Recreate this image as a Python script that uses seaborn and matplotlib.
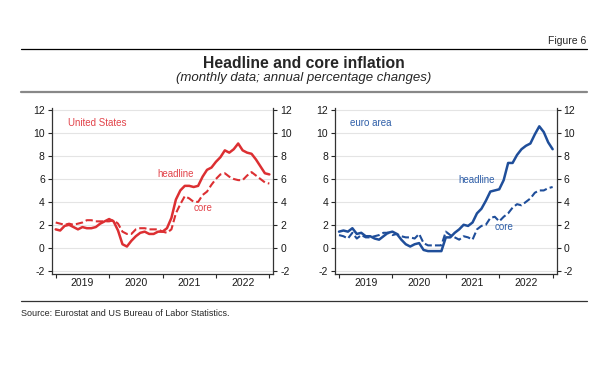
import numpy as np
import pandas as pd
import matplotlib
matplotlib.use("Agg")
import matplotlib.pyplot as plt
from matplotlib.lines import Line2D
import seaborn as sns

# monthly data Jan 2019 - Jan 2023, annual % changes
us_headline = [1.6, 1.5, 1.9, 2.0, 1.8, 1.6, 1.8, 1.7, 1.7, 1.8, 2.1, 2.3,
               2.5, 2.3, 1.5, 0.3, 0.1, 0.6, 1.0, 1.3, 1.4, 1.2, 1.2, 1.4,
               1.4, 1.7, 2.6, 4.2, 5.0, 5.4, 5.4, 5.3, 5.4, 6.2, 6.8, 7.0,
               7.5, 7.9, 8.5, 8.3, 8.6, 9.1, 8.5, 8.3, 8.2, 7.7, 7.1, 6.5,
               6.4]
us_core = [2.2, 2.1, 2.0, 2.1, 2.0, 2.1, 2.2, 2.4, 2.4, 2.3, 2.3, 2.3,
           2.3, 2.4, 2.1, 1.4, 1.2, 1.2, 1.6, 1.7, 1.7, 1.6, 1.6, 1.6,
           1.4, 1.3, 1.6, 3.0, 3.8, 4.5, 4.3, 4.0, 4.0, 4.6, 4.9, 5.5,
           6.0, 6.4, 6.5, 6.2, 6.0, 5.9, 5.9, 6.3, 6.6, 6.3, 6.0, 5.7,
           5.6]
ea_headline = [1.4, 1.5, 1.4, 1.7, 1.2, 1.3, 1.0, 1.0, 0.8, 0.7, 1.0, 1.3,
               1.4, 1.2, 0.7, 0.3, 0.1, 0.3, 0.4, -0.2, -0.3, -0.3, -0.3, -0.3,
               0.9, 0.9, 1.3, 1.6, 2.0, 1.9, 2.2, 3.0, 3.4, 4.1, 4.9, 5.0,
               5.1, 5.9, 7.4, 7.4, 8.1, 8.6, 8.9, 9.1, 9.9, 10.6, 10.1, 9.2,
               8.6]
ea_core = [1.1, 1.0, 0.8, 1.3, 0.8, 1.1, 0.9, 0.9, 1.0, 1.1, 1.3, 1.3,
           1.1, 1.2, 1.0, 0.9, 0.9, 0.8, 1.2, 0.4, 0.2, 0.2, 0.2, 0.2,
           1.4, 1.1, 0.9, 0.7, 1.0, 0.9, 0.7, 1.6, 1.9, 2.0, 2.6, 2.7,
           2.3, 2.7, 3.0, 3.5, 3.8, 3.7, 4.0, 4.3, 4.8, 5.0, 5.0, 5.2,
           5.3]
years = ["2019", "2020", "2021", "2022"]
yticks = [-2, 0, 2, 4, 6, 8, 10, 12]

sns.set_theme(style="ticks")
plt.rcParams["font.family"] = ["Liberation Sans", "DejaVu Sans"]
plt.rcParams["axes.unicode_minus"] = False

month = np.arange(len(us_headline))
us = pd.DataFrame({"month": month, "headline": us_headline, "core": us_core})
ea = pd.DataFrame({"month": month, "headline": ea_headline, "core": ea_core})

red = "#dc2f32"
red_txt = "#e2434a"
blue = "#1f4e9a"
blue_txt = "#2e5ea8"

fig = plt.figure(figsize=(6.14, 3.75), dpi=100)
ax1 = fig.add_axes([0.0842, 0.2693, 0.361, 0.4427])
ax2 = fig.add_axes([0.5456, 0.2693, 0.361, 0.4427])


def panel(ax, df, col, name, name_xy, head_xy, core_xy, txtcol):
    for y in yticks:
        ax.axhline(y, color="#e4e4e4", lw=0.8, zorder=0)
    sns.lineplot(data=df, x="month", y="headline", ax=ax, color=col, lw=1.8)
    sns.lineplot(data=df, x="month", y="core", ax=ax, color=col, lw=1.5,
                 linestyle=(0, (3.5, 1.5)))
    ax.set_xlim(-0.9, 48.9)
    ax.set_ylim(-2.3, 12.2)
    ax.set_yticks(yticks)
    ax.set_xticks([0, 12, 24, 36, 48])
    ax.set_xticklabels([])
    ax.set_xticks([6, 18, 30, 42], minor=True)
    ax.set_xticklabels(years, minor=True)
    ax.tick_params(axis="x", which="major", length=3, width=0.8, direction="out")
    ax.tick_params(axis="x", which="minor", length=0, pad=3, labelsize=7.5,
                   labelcolor="#1a1a1a")
    ax.tick_params(axis="y", labelsize=7.5, length=3, width=0.8, pad=2,
                   right=True, labelright=True, labelcolor="#1a1a1a")
    ax.set_xlabel("")
    ax.set_ylabel("")
    ax.spines["top"].set_visible(False)
    for s in ["left", "right", "bottom"]:
        ax.spines[s].set_linewidth(0.9)
        ax.spines[s].set_color("#333333")
    ax.text(*name_xy, name, color=txtcol, fontsize=7, ha="left", va="center")
    ax.text(*head_xy, "headline", color=txtcol, fontsize=7, ha="left", va="center")
    ax.text(*core_xy, "core", color=txtcol, fontsize=7, ha="left", va="center")


panel(ax1, us, red, "United States", (2.8, 10.9), (22.8, 6.4), (30.9, 3.5), red_txt)
panel(ax2, ea, blue, "euro area", (2.4, 10.9), (26.9, 5.9), (34.9, 1.8), blue_txt)

# header and footer
H = 375
fig.text(586 / 614, 1 - 41 / H, "Figure 6", ha="right", va="center", fontsize=7.5)
fig.add_artist(Line2D([21 / 614, 587 / 614], [1 - 49.3 / H] * 2, color="black", lw=0.9))
fig.text(304 / 614, 1 - 63 / H, "Headline and core inflation", ha="center",
         va="center", fontsize=11.3, fontweight="bold")
fig.text(304 / 614, 1 - 78 / H, "(monthly data; annual percentage changes)",
         ha="center", va="center", fontsize=9.5, style="italic")
fig.add_artist(Line2D([21 / 614, 587 / 614], [1 - 91.7 / H] * 2, color="#888888", lw=1.6))
fig.add_artist(Line2D([21 / 614, 587 / 614], [1 - 301 / H] * 2, color="#333333", lw=0.9))
fig.text(21 / 614, 1 - 313 / H, "Source: Eurostat and US Bureau of Labor Statistics.",
         ha="left", va="center", fontsize=6.5)

fig.savefig("out.png", dpi=100)
